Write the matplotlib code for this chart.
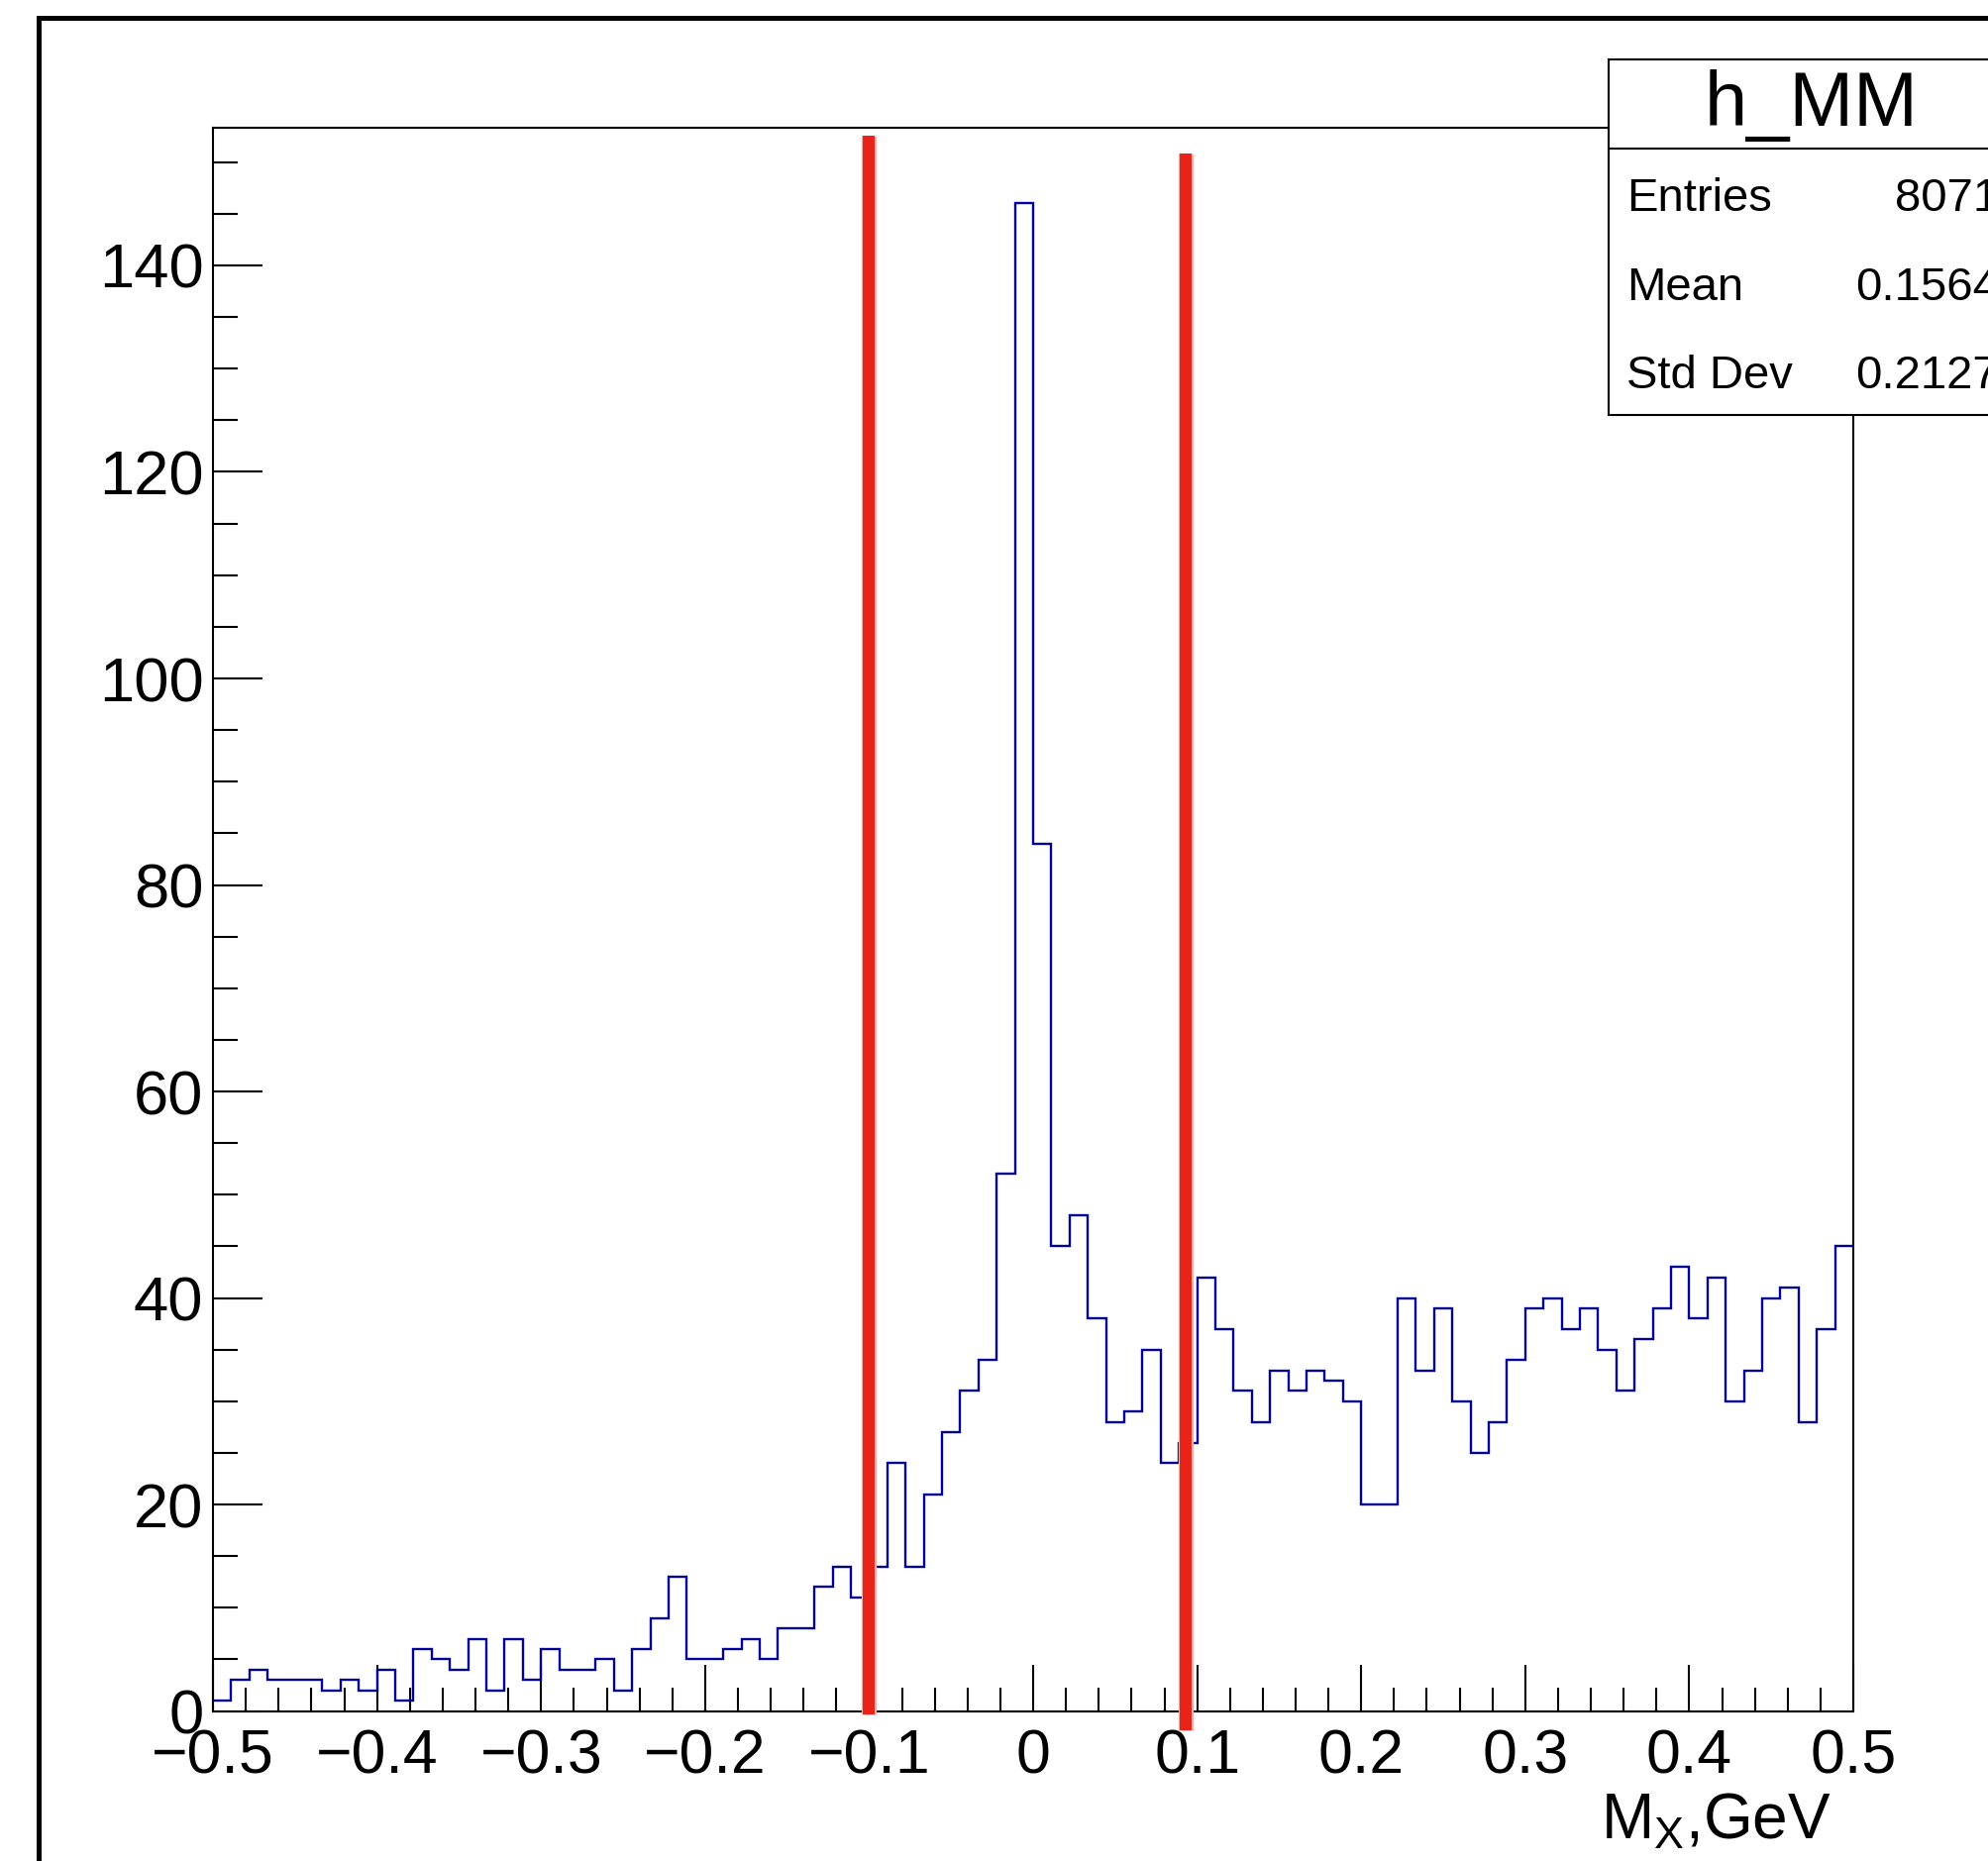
import numpy as np
import matplotlib
matplotlib.use("Agg")
import matplotlib.pyplot as plt
from matplotlib.lines import Line2D
from matplotlib.patches import Rectangle
from matplotlib.ticker import FixedLocator, MultipleLocator, FixedFormatter

plt.rcParams['font.family'] = ['Liberation Sans', 'DejaVu Sans']
plt.rcParams['mathtext.fontset'] = 'custom'
plt.rcParams['mathtext.rm'] = 'Liberation Sans'
plt.rcParams['mathtext.it'] = 'Liberation Sans'

# ---- histogram h_MM : missing mass, 90 bins on [-0.5, 0.5] ----
x_min, x_max, n_bins = -0.5, 0.5, 90
counts = [
    1, 3, 4, 3, 3, 3, 2, 3, 2, 4,
    1, 6, 5, 4, 7, 2, 7, 3, 6, 4,
    4, 5, 2, 6, 9, 13, 5, 5, 6, 7,
    5, 8, 8, 12, 14, 11, 14, 24, 14, 21,
    27, 31, 34, 52, 146, 84, 45, 48, 38, 28,
    29, 35, 24, 26, 42, 37, 31, 28, 33, 31,
    33, 32, 30, 20, 20, 40, 33, 39, 30, 25,
    28, 34, 39, 40, 37, 39, 35, 31, 36, 39,
    43, 38, 42, 30, 33, 40, 41, 28, 37, 45,
]

# selection window drawn by hand on the plot
cut_x = [-0.100, 0.093]
cut_y_low = [-0.3, -1.9]
cut_y_high = [152.6, 150.8]

# axis ticks
x_major = [-0.5, -0.4, -0.3, -0.2, -0.1, 0.0, 0.1, 0.2, 0.3, 0.4, 0.5]
x_labels = ['\u22120.5', '\u22120.4', '\u22120.3', '\u22120.2', '\u22120.1',
            '0', '0.1', '0.2', '0.3', '0.4', '0.5']
y_major = [0, 20, 40, 60, 80, 100, 120, 140]
y_labels = ['0', '20', '40', '60', '80', '100', '120', '140']

# statistics box
stats_title = 'h_MM'
stats_names = ['Entries', 'Mean', 'Std Dev']
stats_values = ['8071', '0.1564', '0.2127']

x_title = r'M$_{\mathrm{X}}$,GeV'

W, H = 2008, 1879
fig = plt.figure(figsize=(W / 100, H / 100), dpi=100)
fig.patch.set_facecolor('white')


def fx(px):
    return px / W


def fy(py):
    return 1 - py / H


ax_l, ax_r, ax_t, ax_b = 215.1, 1871.0, 129.3, 1727.6
ax = fig.add_axes([fx(ax_l), fy(ax_b), fx(ax_r - ax_l), (ax_b - ax_t) / H])

edges = np.linspace(x_min, x_max, n_bins + 1)
ax.stairs(counts, edges, baseline=None, color='#000099', lw=1.7, zorder=3)

ax.set_xlim(x_min, x_max)
ax.set_ylim(0, 1.05 * max(counts))

for xc, y0, y1 in zip(cut_x, cut_y_low, cut_y_high):
    ax.plot([xc, xc], [y0, y1], color='#f2b5ae', lw=11.0,
            solid_capstyle='butt', clip_on=False, zorder=4)
    ax.plot([xc, xc], [y0, y1], color='#e8231a', lw=8.6,
            solid_capstyle='butt', clip_on=False, zorder=5)

ax.xaxis.set_major_locator(FixedLocator(x_major))
ax.xaxis.set_major_formatter(FixedFormatter(x_labels))
ax.xaxis.set_minor_locator(MultipleLocator(0.02))
ax.yaxis.set_major_locator(FixedLocator(y_major))
ax.yaxis.set_major_formatter(FixedFormatter(y_labels))
ax.yaxis.set_minor_locator(MultipleLocator(5))

ax.tick_params(axis='both', which='both', direction='in',
               top=False, right=False, width=1.5, color='black')
ax.tick_params(axis='x', which='major', length=34, pad=12, labelsize=45)
ax.tick_params(axis='x', which='minor', length=17)
ax.tick_params(axis='y', which='major', length=36, pad=7, labelsize=45.5)
ax.tick_params(axis='y', which='minor', length=18)

for sp in ax.spines.values():
    sp.set_linewidth(1.5)
    sp.set_color('black')

# axis title, right-aligned at the end of the x axis
fig.text(fx(1849), fy(1857), x_title, ha='right', va='baseline',
         fontsize=46, color='black')

# canvas border
fig.add_artist(Line2D([fx(39), fx(39), fx(2060)], [fy(1950), fy(17.5), fy(17.5)],
                      transform=fig.transFigure, color='black', lw=3.6,
                      solid_joinstyle='miter'))

# statistics box
box_l, box_r, box_t, box_b, box_div = 1623.8, 2040.0, 60.5, 419.0, 149.5
fig.add_artist(Rectangle((fx(box_l), fy(box_b)), fx(box_r - box_l), (box_b - box_t) / H,
                         transform=fig.transFigure, facecolor='white',
                         edgecolor='black', lw=1.5, zorder=10))
fig.add_artist(Line2D([fx(box_l), fx(box_r)], [fy(box_div), fy(box_div)],
                      transform=fig.transFigure, color='black', lw=1.5, zorder=11))
fig.text(fx(1829), fy(127), stats_title, ha='center', va='baseline',
         fontsize=56, color='black', zorder=12)
row_base = [213, 303, 392]
for name, val, yb in zip(stats_names, stats_values, row_base):
    fig.text(fx(1642), fy(yb), name, ha='left', va='baseline',
             fontsize=34, color='black', zorder=12)
    fig.text(fx(2018), fy(yb), val, ha='right', va='baseline',
             fontsize=34, color='black', zorder=12)

fig.savefig('out.png', dpi=100, facecolor='white')
